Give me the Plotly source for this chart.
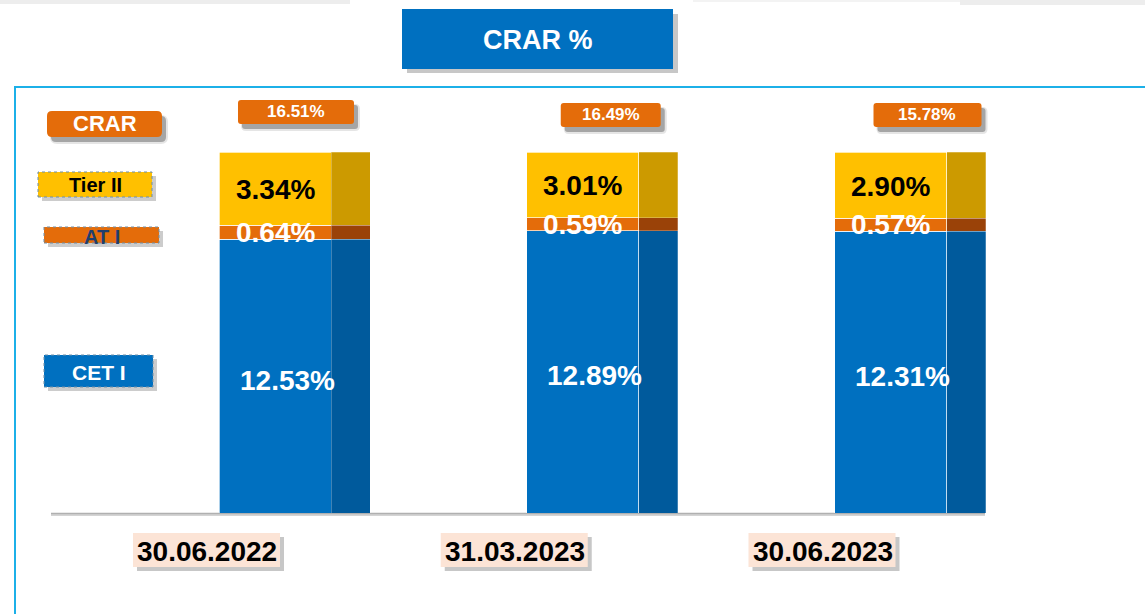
import plotly.graph_objects as go

# ---------------- data ----------------
dates = ["30.06.2022", "31.03.2023", "30.06.2023"]
cet1 = [12.53, 12.89, 12.31]
at1 = [0.64, 0.59, 0.57]
tier2 = [3.34, 3.01, 2.90]
crar = [16.51, 16.49, 15.78]
series_names = ["CET I", "AT I", "Tier II"]
title_text = "CRAR %"

# ---------------- geometry helpers (pixel -> paper) ----------------
W, H = 1145, 614
def px(x): return x / W
def py(y): return 1 - y / H

BASE_Y, TOP_Y = 513, 152          # bar baseline / 100% line in pixels
X0, STEP = 275, 307.75            # first bar centre & spacing in pixels
FRONT_W, SIDE_W = 112, 39
xr = [-X0 / STEP, (W - X0) / STEP]
FONT = "Arial, Liberation Sans, sans-serif"

fig = go.Figure()

front_colors = ["#0070C0", "#E46C0A", "#FFC000"]
side_colors = ["#005A9C", "#9A4208", "#CC9A00"]
text_colors = ["white", "white", "black"]
series_vals = [cet1, at1, tier2]

for i, (name, vals) in enumerate(zip(series_names, series_vals)):
    fig.add_trace(go.Bar(
        x=dates, y=vals, name=name,
        marker=dict(color=front_colors[i], line=dict(color="rgba(255,255,255,0.85)", width=0.8)),
        width=FRONT_W / STEP, offset=-FRONT_W / 2 / STEP,
        xaxis="x", yaxis="y", showlegend=False, hoverinfo="skip"))

for i, (name, vals) in enumerate(zip(series_names, series_vals)):
    fig.add_trace(go.Bar(
        x=dates, y=vals, name=name + " side",
        marker=dict(color=side_colors[i], line=dict(color="rgba(255,255,255,0.5)", width=0.5)),
        width=SIDE_W / STEP, offset=FRONT_W / 2 / STEP,
        xaxis="x2", yaxis="y", showlegend=False, hoverinfo="skip"))

fig.update_layout(
    width=W, height=H,
    margin=dict(l=0, r=0, t=0, b=0),
    paper_bgcolor="white", plot_bgcolor="rgba(0,0,0,0)",
    barmode="stack", barnorm="percent",
    xaxis=dict(domain=[0, 1], range=xr, type="category", visible=False, fixedrange=True),
    xaxis2=dict(domain=[0, 1], range=xr, type="category", overlaying="x", visible=False, fixedrange=True),
    yaxis=dict(domain=[py(BASE_Y), py(TOP_Y)], range=[0, 100], visible=False, fixedrange=True),
    showlegend=False,
)

shapes = []
annotations = []

# value labels placed at the (normalised) middle of each stacked segment
totals = [a + b + c for a, b, c in zip(cet1, at1, tier2)]
for j, d in enumerate(dates):
    t = totals[j]
    mids = [cet1[j] / 2 / t * 100,
            (cet1[j] + at1[j] / 2) / t * 100,
            (cet1[j] + at1[j] + tier2[j] / 2) / t * 100]
    vals = [cet1[j], at1[j], tier2[j]]
    shifts = [(12, -4), (0, 0), (0, -1)]
    for k in range(3):
        annotations.append(dict(
            xref="x", yref="y", x=d, y=mids[k], text=f"<b>{vals[k]:.2f}%</b>",
            showarrow=False, xanchor="center", yanchor="middle",
            xshift=shifts[k][0], yshift=shifts[k][1],
            font=dict(family=FONT, size=28, color=text_colors[k])))

def rect(x0, y0, x1, y1, fill, line_color=None, lw=0, dash=None, layer="above"):
    d = dict(type="rect", xref="paper", yref="paper",
             x0=px(x0), x1=px(x1), y0=py(y1), y1=py(y0),
             fillcolor=fill, layer=layer,
             line=dict(width=lw, color=line_color or "rgba(0,0,0,0)"))
    if dash:
        d["line"]["dash"] = dash
    shapes.append(d)

def rrect(x0, y0, x1, y1, r, fill, layer="above"):
    def p(x, y): return f"{px(x):.5f},{py(y):.5f}"
    path = (f"M {p(x0 + r, y0)} L {p(x1 - r, y0)} Q {p(x1, y0)} {p(x1, y0 + r)} "
            f"L {p(x1, y1 - r)} Q {p(x1, y1)} {p(x1 - r, y1)} L {p(x0 + r, y1)} "
            f"Q {p(x0, y1)} {p(x0, y1 - r)} L {p(x0, y0 + r)} Q {p(x0, y0)} {p(x0 + r, y0)} Z")
    shapes.append(dict(type="path", xref="paper", yref="paper", path=path,
                       fillcolor=fill, line=dict(width=0), layer=layer))

def shadow(x0, y0, x1, y1, r=3, dx=4, dy=5):
    rrect(x0 + dx - 1, y0 + dy - 1, x1 + dx + 2, y1 + dy + 2, r + 2, "rgba(0,0,0,0.10)")
    rrect(x0 + dx, y0 + dy, x1 + dx, y1 + dy, r, "rgba(0,0,0,0.28)")

def text(x, y, s, size, color, bold=True):
    annotations.append(dict(xref="paper", yref="paper", x=px(x), y=py(y), text=f"<b>{s}</b>" if bold else s,
                            showarrow=False, xanchor="center", yanchor="middle",
                            font=dict(family=FONT, size=size, color=color)))

# faint remnants at the top edge
rect(0, 0, 350, 4, "#ededed", layer="below")
rect(693, 0, 960, 2, "#f3f3f3", layer="below")
rect(960, 0, 1145, 5, "#ededed", layer="below")

# frame
shapes.append(dict(type="rect", xref="paper", yref="paper",
                   x0=px(15), x1=px(1160), y0=py(630), y1=py(87),
                   line=dict(color="#1CB0E8", width=2), fillcolor="rgba(0,0,0,0)", layer="below"))

# baseline
shapes.append(dict(type="line", xref="paper", yref="paper",
                   x0=px(51), x1=px(985), y0=py(515), y1=py(515),
                   line=dict(color="#d4d4d4", width=2), layer="below"))
shapes.append(dict(type="line", xref="paper", yref="paper",
                   x0=px(51), x1=px(985), y0=py(513.5), y1=py(513.5),
                   line=dict(color="#b0b0b0", width=1.5), layer="below"))

# title box
rect(402 + 5, 9 + 5, 673 + 5, 69 + 4, "rgba(0,0,0,0.22)")
rect(402, 9, 673, 69, "#0070C0")
text(537.5, 40, title_text, 27, "white")

# legend-like boxes
shadow(47, 111, 162, 137, r=5)
rrect(47, 111, 162, 137, 5, "#E46C0A")
text(104.5, 124, "CRAR", 22, "white")

rect(38 + 4, 172 + 4, 152 + 4, 197 + 4, "rgba(0,0,0,0.2)")
rect(38, 172, 152, 197, "#FFC000", "#6f8fa8", 1, "dot")
text(95, 185, "Tier II", 20, "black")

rect(44 + 4, 227 + 4, 159 + 4, 243 + 4, "rgba(0,0,0,0.2)")
rect(44, 227, 159, 243, "#E46C0A", "#6f8fa8", 1, "dot")
text(101.5, 237, "AT I", 20, "#1F3F6E")

rect(44 + 4, 355 + 4, 153 + 4, 387 + 4, "rgba(0,0,0,0.2)")
rect(44, 355, 153, 387, "#0070C0", "#6f8fa8", 1, "dot")
text(98.5, 372, "CET I", 21, "white")

# CRAR totals and dates
box_w = [116, 100, 108]
box_dx = [21, 28, 37]
box_y = [112, 115, 115]
for i, (d, tot) in enumerate(zip(dates, crar)):
    cx = X0 + i * STEP
    bx = cx + box_dx[i]
    bw = box_w[i]
    y0, y1 = box_y[i] - 12, box_y[i] + 12
    shadow(bx - bw / 2, y0, bx + bw / 2, y1, r=3)
    rrect(bx - bw / 2, y0, bx + bw / 2, y1, 3, "#E46C0A")
    text(bx, box_y[i], f"{tot:.2f}%", 17, "white")
    dx = cx - 68
    rect(dx - 74 + 4, 533 + 4, dx + 73 + 4, 567 + 4, "rgba(0,0,0,0.22)")
    rect(dx - 74, 533, dx + 73, 567, "#FCE4D6")
    text(dx, 551, d, 28, "black")

fig.update_layout(shapes=shapes, annotations=annotations)
fig.write_html("out.html", config={"displayModeBar": False},
               post_script="document.body.style.margin='0';document.body.style.overflow='hidden';")
